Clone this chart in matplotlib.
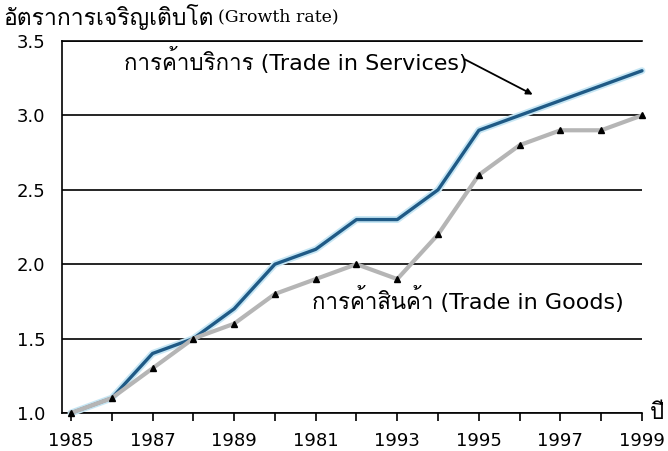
import matplotlib
matplotlib.use("Agg")
import matplotlib.pyplot as plt
import matplotlib.patheffects as pe
from matplotlib import font_manager
from matplotlib.ft2font import FT2Font

# ---------------------------------------------------------------------------
# Dados
# ---------------------------------------------------------------------------
years = list(range(1985, 2000))
services = [1.0, 1.1, 1.4, 1.5, 1.7, 2.0, 2.1, 2.3, 2.3, 2.5, 2.9, 3.0, 3.1, 3.2, 3.3]
goods = [1.0, 1.1, 1.3, 1.5, 1.6, 1.8, 1.9, 2.0, 1.9, 2.2, 2.6, 2.8, 2.9, 2.9, 3.0]

label_years = [1985, 1987, 1989, 1991, 1993, 1995, 1997, 1999]
label_texts = ["1985", "1987", "1989", "1981", "1993", "1995", "1997", "1999"]
y_ticks = [1.0, 1.5, 2.0, 2.5, 3.0, 3.5]

ylabel_th = "อัตราการเจริญเติบโต"
ylabel_en = "(Growth rate)"
services_label = "การค้าบริการ (Trade in Services)"
goods_label = "การค้าสินค้า (Trade in Goods)"
xunit = "ปี"


def thai_families():
    """Famílias instaladas com glifos tailandeses (Loma primeiro, se houver)."""
    found = []
    for f in font_manager.fontManager.ttflist:
        try:
            cmap = FT2Font(f.fname).get_charmap()
        except Exception:
            continue
        if ord("ก") in cmap and f.name not in found:
            found.append(f.name)
    found.sort(key=lambda n: n != "Loma")
    return found[:1]


FAM = ["DejaVu Sans"] + thai_families()

fig = plt.figure(figsize=(6.68, 4.51), dpi=100)
ax = fig.add_axes([62 / 668, 1 - 413 / 451, (642 - 62) / 668, (413 - 41) / 451])

ax.plot(years, services, color="#1f5a86", lw=2.4, solid_capstyle="round",
        path_effects=[pe.Stroke(linewidth=5, foreground="#c6e6f4"), pe.Normal()],
        clip_on=False, zorder=3)
ax.plot(years, goods, color="#b5b5b5", lw=3, marker="^", ms=5,
        mfc="black", mec="black", clip_on=False, zorder=4)

ax.set_xlim(1984.78, 1999)
ax.set_ylim(1.0, 3.5)
ax.set_yticks(y_ticks)
ax.set_yticklabels([f"{v:.1f}" for v in y_ticks], fontsize=13, family="DejaVu Sans")
ax.set_xticks(years)
ax.set_xticklabels([label_texts[label_years.index(y)] if y in label_years else ""
                    for y in years], fontsize=13, family="DejaVu Sans")
ax.tick_params(axis="x", direction="out", length=6, width=1.2, pad=8)
ax.tick_params(axis="y", length=0, pad=12)
ax.grid(axis="y", color="black", lw=1.2)
ax.set_axisbelow(True)
for s in ["left", "bottom", "top"]:
    ax.spines[s].set_linewidth(1.2)
ax.spines["right"].set_visible(False)

# rótulos das séries
ax.text(1994.73, 3.37, services_label, ha="right", va="center", fontsize=16, family=FAM)
ax.annotate("", xy=(1996.32, 3.14), xytext=(1994.66, 3.376),
            arrowprops=dict(arrowstyle="-|>", color="black", lw=1.3,
                            mutation_scale=9, shrinkA=0, shrinkB=0))
ax.text(1990.9, 1.76, goods_label, ha="left", va="center", fontsize=16, family=FAM)
ax.annotate(xunit, xy=(1, 0), xycoords="axes fraction", xytext=(6, 0),
            textcoords="offset points", ha="left", va="center", fontsize=16, family=FAM)

# título do eixo y (tailandês + inglês em serifa)
fig.text(3 / 668, 1 - 17 / 451, ylabel_th, ha="left", va="center", fontsize=16.5, family=FAM)
fig.text(218 / 668, 1 - 17 / 451, ylabel_en, ha="left", va="center", fontsize=12.5,
         family="DejaVu Serif")

fig.savefig("out.png", dpi=100)
